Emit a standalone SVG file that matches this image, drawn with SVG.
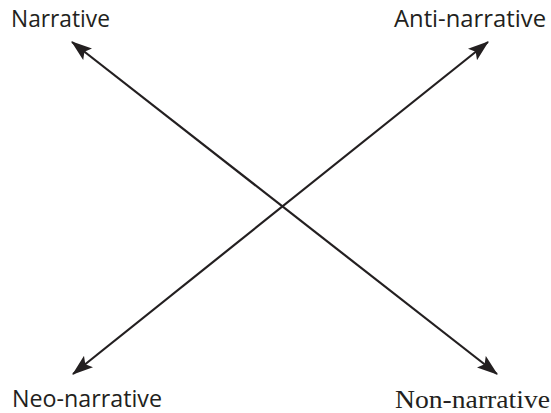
<svg xmlns="http://www.w3.org/2000/svg" width="551" height="413" viewBox="0 0 551 413">
<style>
.sans{font-family:"Open Sans","Liberation Sans",sans-serif;font-size:23px;fill:#231f20}
.serif{font-family:"Liberation Serif",serif;font-size:26px;fill:#231f20}
.ln{stroke:#231f20;stroke-width:2.2;fill:none}
</style>
<defs>
<marker id="ah" viewBox="0 0 20 14" refX="19" refY="7" markerWidth="21" markerHeight="15" markerUnits="userSpaceOnUse" orient="auto-start-reverse">
<path d="M0,0 L20,7 L0,14 L4,7 Z" fill="#231f20"/>
</marker>
</defs>
<g id="connectors">
<line class="ln" x1="72" y1="42" x2="497" y2="374" marker-start="url(#ah)" marker-end="url(#ah)"/>
<line class="ln" x1="488" y1="42" x2="73" y2="374" marker-start="url(#ah)" marker-end="url(#ah)"/>
</g>
<g id="narrative"><text class="sans" x="11" y="27" textLength="99" lengthAdjust="spacingAndGlyphs">Narrative</text></g>
<g id="anti-narrative"><text class="sans" x="394" y="27" textLength="152" lengthAdjust="spacingAndGlyphs">Anti-narrative</text></g>
<g id="neo-narrative"><text class="sans" x="12" y="407" textLength="150" lengthAdjust="spacingAndGlyphs">Neo-narrative</text></g>
<g id="non-narrative"><text class="serif" x="395" y="408" textLength="155" lengthAdjust="spacingAndGlyphs">Non-narrative</text></g>
</svg>
